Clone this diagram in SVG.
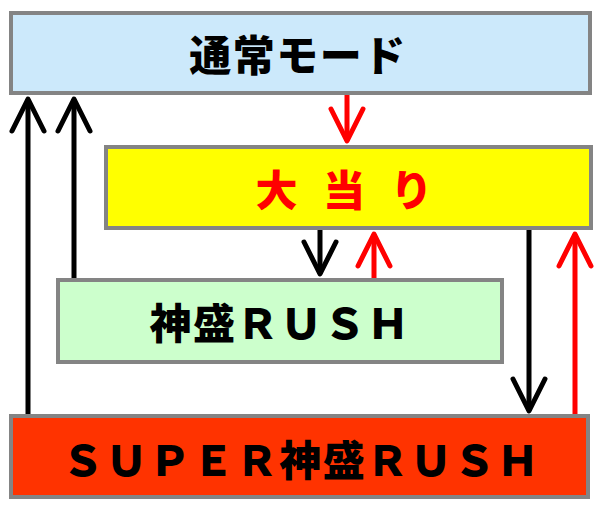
<svg xmlns="http://www.w3.org/2000/svg" width="600" height="510" viewBox="0 0 600 510">
<defs>
<style>
.box{stroke:#848484;stroke-width:4}
.t{font-family:"Noto Sans CJK JP","Noto Sans CJK SC",sans-serif;font-weight:900;font-size:42px;text-anchor:middle;letter-spacing:1.5px}
.k{stroke:#000;stroke-width:5;fill:none}
.r{stroke:#ff0000;stroke-width:5;fill:none}
</style>
<marker id="hk" viewBox="-40 -20 44 40" refX="0" refY="0" markerWidth="44" markerHeight="40" markerUnits="userSpaceOnUse" orient="auto">
<path d="M-32,-16 L0,0 L-32,16" fill="none" stroke="#000" stroke-width="5" stroke-linejoin="round" stroke-linecap="round"/>
</marker>
<marker id="hr" viewBox="-40 -20 44 40" refX="0" refY="0" markerWidth="44" markerHeight="40" markerUnits="userSpaceOnUse" orient="auto">
<path d="M-32,-16 L0,0 L-32,16" fill="none" stroke="#ff0000" stroke-width="5" stroke-linejoin="round" stroke-linecap="round"/>
</marker>
</defs>
<rect width="600" height="510" fill="#fff"/>
<g id="normal">
<rect class="box" x="11" y="13" width="579" height="80" fill="#cce9fb"/>
<text class="t" x="298" y="71" fill="#000">通常モード</text>
</g>
<g id="oatari">
<rect class="box" x="106" y="147" width="485" height="81" fill="#ffff00"/>
<text class="t" x="348" y="206" fill="#ff0000" xml:space="preserve" style="letter-spacing:8px">大 当 り</text>
</g>
<g id="kamimori-rush">
<rect class="box" x="58" y="280" width="444" height="82" fill="#ccffcc"/>
<text class="t" x="280" y="339" fill="#000">神盛ＲＵＳＨ</text>
</g>
<g id="super-kamimori-rush">
<rect class="box" x="11" y="416" width="577" height="81" fill="#ff3300"/>
<text class="t" x="301" y="476" fill="#000">ＳＵＰＥＲ神盛ＲＵＳＨ</text>
</g>
<g id="connectors">
<line class="k" x1="28" y1="414" x2="28" y2="99" marker-end="url(#hk)"/>
<line class="k" x1="74" y1="278" x2="74" y2="99" marker-end="url(#hk)"/>
<line class="r" x1="347" y1="95" x2="347" y2="141" marker-end="url(#hr)"/>
<line class="k" x1="320" y1="230" x2="320" y2="274" marker-end="url(#hk)"/>
<line class="r" x1="374" y1="278" x2="374" y2="234" marker-end="url(#hr)"/>
<line class="k" x1="529" y1="230" x2="529" y2="411" marker-end="url(#hk)"/>
<line class="r" x1="575" y1="414" x2="575" y2="234" marker-end="url(#hr)"/>
</g>
</svg>
